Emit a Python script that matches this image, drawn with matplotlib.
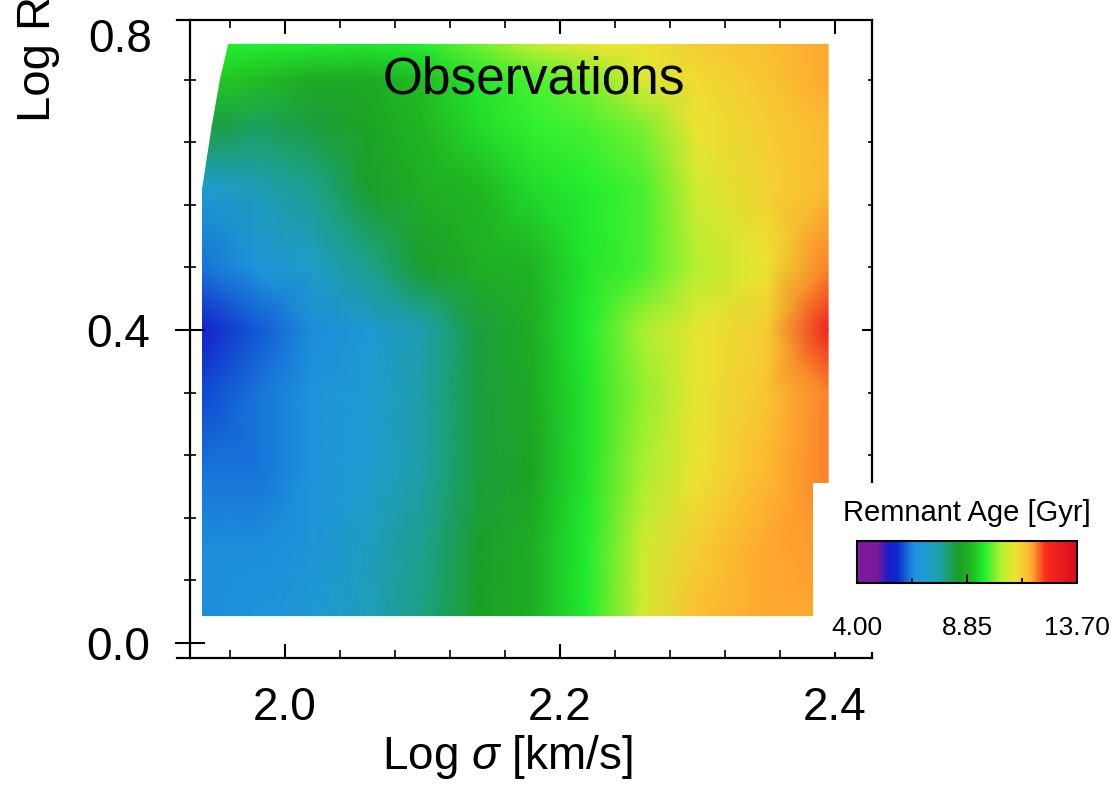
import numpy as np
import matplotlib
matplotlib.use("Agg")
import matplotlib.pyplot as plt
from matplotlib.colors import LinearSegmentedColormap, Normalize
from matplotlib.ticker import MultipleLocator

plt.rcParams['font.family'] = ['Liberation Sans', 'DejaVu Sans']
plt.rcParams['mathtext.fontset'] = 'custom'
plt.rcParams['mathtext.rm'] = 'Liberation Sans'
plt.rcParams['mathtext.it'] = 'Liberation Sans:italic'

# grid of the observed map (log sigma along x, log R along y)
log_sigma = [1.94, 1.98, 2.02, 2.06, 2.10, 2.14, 2.18, 2.22, 2.26, 2.30, 2.35, 2.395]
log_r = [0.035, 0.12, 0.22, 0.32, 0.40, 0.48, 0.58, 0.66, 0.72, 0.765]
# left hull edge of the data for every row (slanted at the top)
hull_left = [1.94, 1.94, 1.94, 1.94, 1.94, 1.94, 1.94, 1.947, 1.953, 1.959]

# remnant age [Gyr], rows from bottom (log R small) to top
age = [
    [6.5, 6.6, 6.9, 7.4, 7.9, 8.5, 8.8, 9.6, 10.7, 11.5, 11.7, 11.7],
    [6.5, 6.5, 6.7, 7.3, 7.8, 8.4, 8.8, 9.6, 10.6, 11.3, 11.7, 11.8],
    [6.3, 6.3, 6.6, 7.1, 7.6, 8.3, 8.6, 9.5, 10.3, 11.0, 11.6, 11.9],
    [6.0, 6.3, 6.6, 7.0, 7.6, 8.3, 8.7, 9.5, 10.2, 10.9, 11.4, 11.9],
    [5.5, 6.1, 6.5, 6.9, 7.5, 8.3, 8.8, 9.6, 10.3, 10.9, 11.3, 12.7],
    [6.3, 6.6, 7.2, 7.8, 8.4, 8.8, 8.9, 9.5, 9.8, 10.4, 11.0, 11.9],
    [7.0, 7.4, 7.8, 8.4, 8.8, 9.0, 9.4, 9.6, 9.8, 10.7, 11.2, 11.6],
    [8.3, 8.1, 8.3, 8.6, 9.0, 9.4, 9.7, 9.8, 10.1, 11.0, 11.3, 11.6],
    [9.2, 9.1, 8.7, 8.7, 9.1, 9.5, 9.8, 10.1, 10.8, 11.1, 11.4, 11.7],
    [9.6, 9.6, 9.6, 9.5, 9.6, 10.0, 10.5, 10.9, 11.0, 11.3, 11.5, 11.7],
]

age_min, age_max = 4.00, 13.70
cbar_ticks = [4.00, 8.85, 13.70]
cbar_minor = [6.425, 11.275]

# rainbow-like colour scale
cmap = LinearSegmentedColormap.from_list('remnant', [
    (0.00, '#7d1a9d'), (0.09, '#7a1a9a'), (0.14, '#1a1ec8'), (0.18, '#0a28d0'),
    (0.26, '#1e94dc'), (0.32, '#1e9cd0'), (0.38, '#1ea0a0'), (0.46, '#1a9e26'),
    (0.52, '#22b822'), (0.58, '#22f030'), (0.66, '#b8f030'), (0.72, '#ece432'),
    (0.79, '#ffb432'), (0.86, '#f82a1e'), (1.00, '#d80c1e')])
norm = Normalize(age_min, age_max)

W, H = 1113, 787
fig = plt.figure(figsize=(W / 100, H / 100), dpi=100)
ax = fig.add_axes([177 / W, 1 - 658 / H, (872 - 177) / W, (658 - 20) / H])

X, Y = np.meshgrid(log_sigma, log_r)
X[:, 0] = hull_left
mesh = ax.pcolormesh(X, Y, np.array(age), shading='gouraud', cmap=cmap, norm=norm)

ax.set_xlim(1.92145, 2.42691)
ax.set_ylim(-0.0192, 0.7962)

for s in ax.spines.values():
    s.set_linewidth(1.6)
ax.spines['left'].set_position(('data', 1.931))

ax.set_xticks([2.0, 2.2, 2.4])
ax.xaxis.set_minor_locator(MultipleLocator(0.04))
ax.tick_params(axis='x', which='both', direction='in', top=True, bottom=True,
               labelsize=33, pad=20)
ax.tick_params(axis='x', which='major', length=10, width=1.5)
ax.tick_params(axis='x', which='minor', length=6, width=1.2)

ax.set_yticks([0.0, 0.4])
ax.set_yticklabels(['0.0', '0.4'])
ax.yaxis.set_minor_locator(MultipleLocator(0.08))
ax.tick_params(axis='y', which='both', direction='inout', right=False, labelsize=33, pad=18)
ax.tick_params(axis='y', which='major', length=21, width=1.5)
ax.tick_params(axis='y', which='minor', length=9, width=1.2)

ax2 = ax.secondary_yaxis('right')
ax2.set_yticks([0.0, 0.4, 0.8])
ax2.yaxis.set_minor_locator(MultipleLocator(0.08))
ax2.tick_params(which='both', direction='in', labelright=False)
ax2.tick_params(which='major', length=7, width=1.5)
ax2.tick_params(which='minor', length=3, width=1.2)
ax2.spines['right'].set_linewidth(1.6)
ax.spines['right'].set_visible(False)

ax.text(0.514, 0.906, 'Observations', transform=ax.transAxes, ha='center',
        va='center', fontsize=37)

fig.text(152 / W, 1 - 40 / H, '0.8', ha='right', va='center', fontsize=33)
fig.text(507 / W, 1 - 757 / H, r'Log $\it{\sigma}$ [km/s]', ha='center', va='center',
         fontsize=33)
fig.text(38 / W, 1 - 122 / H, 'Log R', rotation=90, ha='center', va='bottom',
         fontsize=34)

# legend box with the colour bar
box = fig.add_axes([813 / W, 1 - 652 / H, 300 / W, (652 - 483) / H], zorder=5)
box.set_facecolor('white')
box.set_xticks([])
box.set_yticks([])
for s in box.spines.values():
    s.set_visible(False)
box.text(0.513, 0.822, 'Remnant Age [Gyr]', transform=box.transAxes, ha='center',
         va='center', fontsize=21)

cax = fig.add_axes([857 / W, 1 - 583 / H, 220 / W, 42 / H], zorder=6)
cbar = fig.colorbar(mesh, cax=cax, orientation='horizontal')
cbar.set_ticks(cbar_ticks)
cbar.set_ticklabels(['%.2f' % t for t in cbar_ticks])
cbar.set_ticks(cbar_minor, minor=True)
cbar.outline.set_linewidth(1.5)
cax.tick_params(which='both', direction='in', labelsize=19, pad=24, width=1.3)
cax.tick_params(which='major', length=6.5)
cax.tick_params(which='minor', length=3.6)

fig.savefig('out.png', dpi=100)
